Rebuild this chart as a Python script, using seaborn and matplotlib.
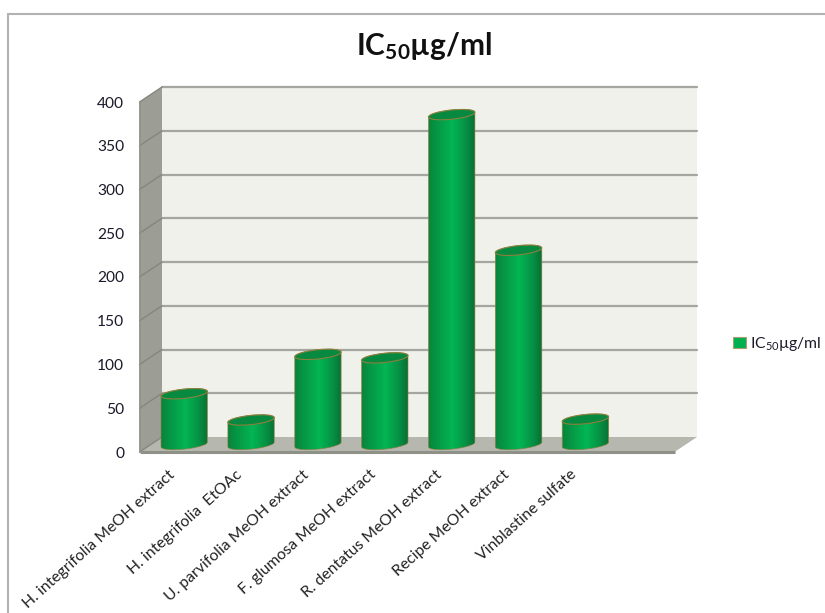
import numpy as np
import pandas as pd
import matplotlib
matplotlib.use("Agg")
import matplotlib.pyplot as plt
import seaborn as sns
from matplotlib.colors import LinearSegmentedColormap
from matplotlib.lines import Line2D
from matplotlib.patches import Ellipse, Polygon, Rectangle
from matplotlib.transforms import Affine2D, IdentityTransform

# Extracts and their IC50 values
categories = [
    "H. integrifolia MeOH extract",
    "H. integrifolia  EtOAc",
    "U. parvifolia MeOH extract",
    "F. glumosa MeOH extract",
    "R. dentatus MeOH extract",
    "Recipe MeOH extract",
    "Vinblastine sulfate",
]
ic50_values = [58, 28, 103, 99, 377, 222, 29]
y_ticks = [0, 50, 100, 150, 200, 250, 300, 350, 400]
series_name = r"IC$_{50}$µg/ml"
title_text = r"IC$_{\mathbf{50}}$µg/ml"

sns.set_theme(style="white")
plt.rcParams["font.family"] = ["Lato", "DejaVu Sans"]
plt.rcParams["mathtext.fontset"] = "custom"
plt.rcParams["mathtext.rm"] = "Lato"
plt.rcParams["mathtext.it"] = "Lato"
plt.rcParams["mathtext.bf"] = "Lato:bold"
plt.rcParams["mathtext.default"] = "rm"

W, H = 825, 613
fig = plt.figure(figsize=(W / 100, H / 100), dpi=100, facecolor="white")

# Outer chart frame, open towards the right and bottom edges
frame = dict(color="#b2b2b2", lw=1.5, transform=fig.transFigure)
fig.add_artist(Line2D([8 / W, 1], [1 - 14 / H, 1 - 14 / H], **frame))
fig.add_artist(Line2D([8 / W, 8 / W], [0, 1 - 14 / H], **frame))

# Front plane of the 3D box, and the plane halfway through its depth
LEFT, BOTTOM, PW, PH = 139.5, H - 452, 535, 350
DEPTH_X, DEPTH_Y = 22.5, 15
ax = fig.add_axes([LEFT / W, BOTTOM / H, PW / W, PH / H], facecolor="none")
bar_ax = fig.add_axes(
    [(LEFT + DEPTH_X / 2) / W, (BOTTOM + DEPTH_Y / 2) / H, PW / W, PH / H],
    facecolor="none",
)
for a in (ax, bar_ax):
    a.set_xlim(-0.5, 7.5)
    a.set_ylim(0, 400)
    sns.despine(ax=a, left=True, bottom=True)

# Box walls are offset from the front plane by the depth vector
back = ax.transData + Affine2D().translate(DEPTH_X, DEPTH_Y)
x0, x1 = ax.get_xlim()


def plane_points(points):
    return ax.transData.transform(points)


def depth_quad(a, b, color, z):
    pa, pb = plane_points([a, b])
    quad = [pa, pb, pb + (DEPTH_X, DEPTH_Y), pa + (DEPTH_X, DEPTH_Y)]
    ax.add_patch(Polygon(quad, closed=True, facecolor=color, edgecolor="none",
                         transform=IdentityTransform(), zorder=z, clip_on=False))


ax.add_patch(Rectangle((x0, 0), x1 - x0, 400, facecolor="#eff1ea", edgecolor="none",
                       transform=back, zorder=1, clip_on=False))
depth_quad((x0, 0), (x0, 400), "#9c9e96", 2)
depth_quad((x0, 0), (x1, 0), "#b6b8b0", 2)

# Grid runs along the back wall and down the side wall
for tick in y_ticks:
    if tick > 0:
        ax.plot([x0, x1], [tick, tick], color="#a6a6a0", lw=1.6,
                transform=back, zorder=2.5, clip_on=False)
    p = plane_points([(x0, tick)])[0]
    ax.add_line(Line2D([p[0], p[0] + DEPTH_X], [p[1], p[1] + DEPTH_Y],
                       color="#85877f", lw=1.0, transform=IdentityTransform(),
                       zorder=3, clip_on=False))
ax.plot([x0, x1], [0, 0], color="#8f9188", lw=2.2, zorder=3, clip_on=False,
        solid_capstyle="butt")
ax.plot([x0, x0], [0, 400], color="#8f9188", lw=1.2, zorder=3, clip_on=False)

ax.set_xticks(range(len(categories)))
ax.set_xticklabels(categories, rotation=42, ha="right", va="center",
                   rotation_mode="anchor", fontsize=11.3, color="#222222")
ax.set_yticks(y_ticks)
ax.set_yticklabels([str(t) for t in y_ticks], fontsize=11.2, color="#1a1a2a")
ax.tick_params(axis="x", length=0, pad=15)
ax.tick_params(axis="y", length=0, pad=11)
ax.set_xlabel("")
ax.set_ylabel("")

# Bars come from seaborn; each one is then shaped into a cylinder
table = pd.DataFrame({"extract": categories, "ic50": ic50_values})
sns.barplot(data=table, x="extract", y="ic50", color="#00b050", width=46 / 66.875,
            saturation=1, ax=bar_ax, zorder=4)
bar_ax.set_xlim(x0, x1)
bar_ax.set_ylim(0, 400)
bar_ax.axis("off")

shade = LinearSegmentedColormap.from_list(
    "cylinder",
    [(0.0, "#0c7f3a"), (0.12, "#078f41"), (0.52, "#02b653"),
     (0.8, "#069044"), (1.0, "#0a6c33")],
)
RX, RY, TILT = 23.3, 4.6, 6.0
OUTLINE = "#8c7f3e"


def arc(cx, cy, start, stop):
    t = np.radians(np.linspace(start, stop, 60))
    tilt = np.radians(TILT)
    ex, ey = RX * np.cos(t), RY * np.sin(t)
    return np.column_stack([cx + ex * np.cos(tilt) - ey * np.sin(tilt),
                            cy + ex * np.sin(tilt) + ey * np.cos(tilt)])


for bar in list(bar_ax.patches):
    xc = bar.get_x() + bar.get_width() / 2
    base = bar_ax.transData.transform((xc, 0))
    top = bar_ax.transData.transform((xc, bar.get_height()))
    outline = np.vstack([arc(*base, 180, 360), arc(*top, 0, 180)])
    body = Polygon(outline, closed=True, facecolor="none", edgecolor=OUTLINE, lw=0.6,
                   alpha=0.75, transform=IdentityTransform(), zorder=6, clip_on=False)
    bar_ax.add_patch(body)
    bar.set_clip_box(fig.bbox)
    bar.set_clip_path(body)
    img = bar_ax.imshow(np.linspace(0, 1, 128)[None, :], cmap=shade, aspect="auto",
                        extent=(bar.get_x() - 0.02, bar.get_x() + bar.get_width() + 0.02,
                                -12, bar.get_height() + 12),
                        zorder=5, interpolation="bilinear")
    img.set_clip_box(fig.bbox)
    img.set_clip_path(body)
    cap = Ellipse((0, 0), 2 * RX, 2 * RY, angle=TILT, facecolor="#078a3f",
                  edgecolor=OUTLINE, lw=0.8,
                  transform=Affine2D().translate(*top), zorder=7, clip_on=False)
    bar_ax.add_patch(cap)
bar_ax.set_xlim(x0, x1)
bar_ax.set_ylim(0, 400)

fig.text(424 / W, 1 - 46 / H, title_text, ha="center", va="center",
         fontsize=21.5, fontweight="bold", color="#111111")

# Legend entry
legend = fig.legend(
    handles=[Rectangle((0, 0), 1, 1, facecolor="#00b050", edgecolor="#a89f70", lw=0.8)],
    labels=[series_name], loc="center left", bbox_to_anchor=(727 / W, 1 - 344 / H),
    frameon=False, fontsize=11.3, handlelength=0.78, handleheight=0.78, handletextpad=0.3,
    borderaxespad=0, borderpad=0.4,
)
for text in legend.get_texts():
    text.set_color("#1a1a2a")

fig.savefig("out.png", dpi=100, facecolor="white")
